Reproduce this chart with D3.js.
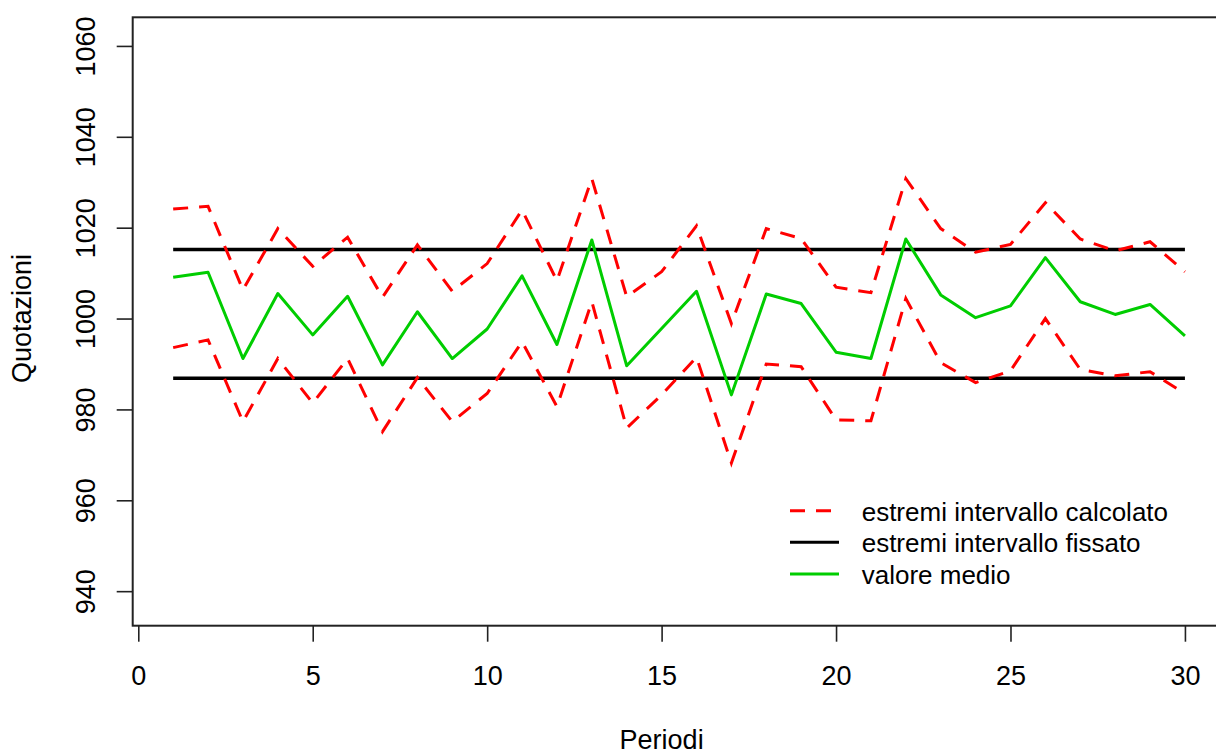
<!DOCTYPE html>
<html>
<head>
<meta charset="utf-8">
<script src="https://cdn.jsdelivr.net/npm/d3@7"></script>
<style>
  html, body { margin: 0; padding: 0; background: #fff; }
  svg { display: block; font-family: "Liberation Sans", Arial, sans-serif; }
</style>
</head>
<body>
<div id="chart"></div>
<script>
"use strict";

// data
const periods = d3.range(1, 31);
const valoreMedio = [1009.1, 1010.2, 991.2, 1005.5, 996.4, 1004.9, 989.8, 1001.5, 991.2, 997.7,
                     1009.4, 994.3, 1017.3, 989.6, 997.8, 1006.0, 983.2, 1005.4, 1003.3, 992.6,
                     991.2, 1017.5, 1005.2, 1000.2, 1002.8, 1013.4, 1003.7, 1000.9, 1003.1, 996.2];
const estremoSup = [1024.1, 1024.7, 1006.3, 1019.8, 1011.5, 1017.9, 1004.7, 1016.2, 1006.0, 1012.1,
                    1023.9, 1008.3, 1030.8, 1004.8, 1010.3, 1020.4, 998.9, 1019.8, 1017.6, 1006.9,
                    1005.7, 1030.8, 1019.8, 1014.6, 1016.3, 1025.5, 1017.5, 1014.9, 1016.9, 1010.3];
const estremoInf = [993.6, 995.3, 977.3, 991.2, 981.4, 991.2, 975.1, 987.0, 977.3, 983.5,
                    994.9, 980.6, 1003.7, 975.9, 983.2, 991.5, 968.2, 990.0, 989.4, 977.7,
                    977.5, 1004.4, 990.3, 985.9, 988.5, 1000.0, 988.8, 987.4, 988.3, 983.5];
const fixedBounds = [986.85, 1015.2];
const xTicks = [0, 5, 10, 15, 20, 25, 30];
const yTicks = [940, 960, 980, 1000, 1020, 1040, 1060];
const legendLabels = ["estremi intervallo calcolato", "estremi intervallo fissato", "valore medio"];

const WIDTH = 1216, HEIGHT = 749;
const plot = {left: 132.7, top: 17.3, right: 1225.4, bottom: 625.7};

const x = d3.scaleLinear().domain([-0.16, 31.16]).range([plot.left, plot.right]);
const y = d3.scaleLinear().domain([932.4, 1066.3]).range([plot.bottom, plot.top]);

const svg = d3.select("#chart").append("svg")
    .attr("width", WIDTH)
    .attr("height", HEIGHT);

// x axis
const gx = svg.append("g")
    .attr("transform", "translate(0," + plot.bottom + ")")
    .call(d3.axisBottom(x).tickValues(xTicks).tickSize(16).tickPadding(24).tickFormat(d3.format("d")));
gx.select(".domain").remove();
gx.selectAll("line").attr("stroke", "#222").attr("stroke-width", 1.6);
gx.selectAll("text").attr("font-size", 27).attr("fill", "#000")
    .attr("font-family", "Liberation Sans, Arial, sans-serif");

// y axis, labels turned like R's las=0
const gy = svg.append("g")
    .attr("transform", "translate(" + plot.left + ",0)")
    .call(d3.axisLeft(y).tickValues(yTicks).tickSize(16).tickFormat(d3.format("d")));
gy.select(".domain").remove();
gy.selectAll("line").attr("stroke", "#222").attr("stroke-width", 1.6);
gy.selectAll("text")
    .attr("font-size", 27).attr("fill", "#000")
    .attr("font-family", "Liberation Sans, Arial, sans-serif")
    .attr("transform", "rotate(-90)")
    .attr("x", 0).attr("y", -37.7).attr("dy", 0)
    .attr("text-anchor", "middle");

// box
svg.append("rect")
    .attr("x", plot.left).attr("y", plot.top)
    .attr("width", plot.right - plot.left).attr("height", plot.bottom - plot.top)
    .attr("fill", "none").attr("stroke", "#222").attr("stroke-width", 2);

// axis titles
svg.append("text")
    .attr("x", x(15)).attr("y", 749)
    .attr("text-anchor", "middle").attr("font-size", 27).attr("fill", "#000")
    .text("Periodi");
svg.append("text")
    .attr("transform", "translate(31," + y(1000) + ") rotate(-90)")
    .attr("text-anchor", "middle").attr("font-size", 27).attr("fill", "#000")
    .text("Quotazioni");

const line = d3.line()
    .x((d, i) => x(periods[i]))
    .y(d => y(d));

// fixed interval
fixedBounds.forEach(function(v) {
    svg.append("path")
        .datum([v, v])
        .attr("d", d3.line().x((d, i) => x(i === 0 ? periods[0] : periods[periods.length - 1])).y(d => y(d)))
        .attr("fill", "none").attr("stroke", "#000").attr("stroke-width", 3.4);
});

// computed interval
[estremoSup, estremoInf].forEach(function(s) {
    svg.append("path")
        .datum(s)
        .attr("d", line)
        .attr("fill", "none").attr("stroke", "#ff0000").attr("stroke-width", 3)
        .attr("stroke-dasharray", "15,11");
});

// mean
svg.append("path")
    .datum(valoreMedio)
    .attr("d", line)
    .attr("fill", "none").attr("stroke", "#00cd00").attr("stroke-width", 3)
    .attr("stroke-linejoin", "round");

// legend
const legendStyles = [
    {color: "#ff0000", dash: "15,11"},
    {color: "#000", dash: null},
    {color: "#00cd00", dash: null}
];
const rowY = [510.7, 542.3, 574];
legendLabels.forEach(function(lab, i) {
    svg.append("line")
        .attr("x1", 790).attr("x2", 839)
        .attr("y1", rowY[i]).attr("y2", rowY[i])
        .attr("stroke", legendStyles[i].color).attr("stroke-width", 3)
        .attr("stroke-dasharray", legendStyles[i].dash);
    svg.append("text")
        .attr("x", 861.7).attr("y", rowY[i] + 10)
        .attr("font-size", 26).attr("fill", "#000")
        .text(lab);
});
</script>
</body>
</html>
